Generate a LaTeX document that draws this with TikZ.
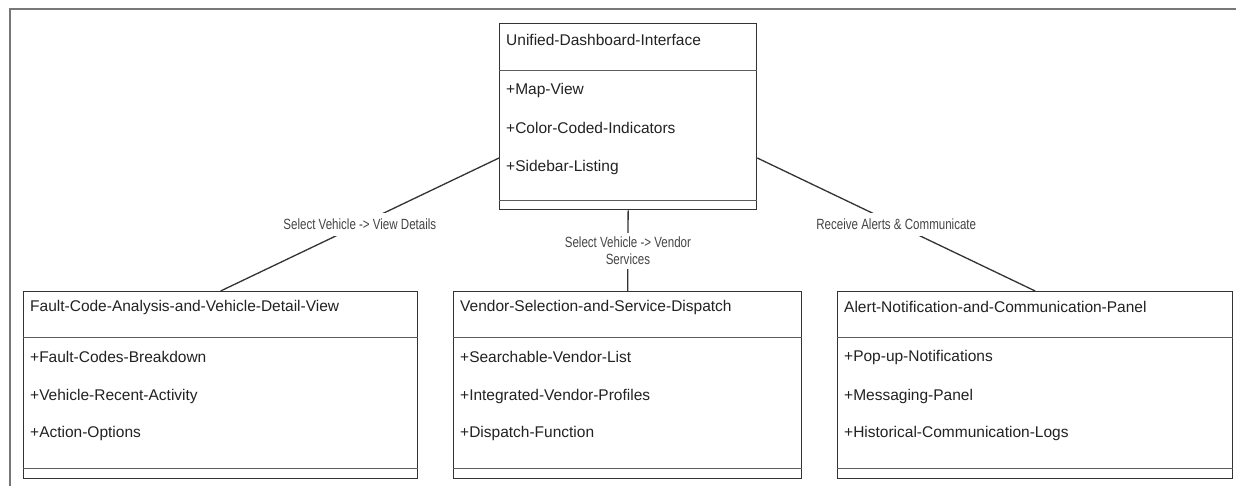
\documentclass[tikz,border=0pt]{standalone}
\usepackage{fontspec}
\setmainfont{Liberation Sans}
\newfontfamily\lblfont{Liberation Sans}[FakeStretch=0.78]
\definecolor{linec}{HTML}{333333}
\definecolor{framec}{HTML}{777777}
\definecolor{txtc}{HTML}{222222}
\definecolor{lblc}{HTML}{444444}
\begin{document}
\begin{tikzpicture}[x=1pt,y=-1pt,
  box/.style={draw=linec, line width=1.3pt, fill=white, inner sep=0pt, anchor=north west},
  divider/.style={draw=linec!80, line width=0.9pt},
  txt/.style={anchor=west, font=\fontsize{15.5}{18}\selectfont, inner sep=0pt, text=txtc},
  lbl/.style={font=\lblfont\fontsize{14.8}{17}\selectfont, fill=white, inner xsep=3pt, inner ysep=6pt, align=center, text=lblc},
  conn/.style={draw=linec, line width=1.3pt}]
\useasboundingbox (0,0) rectangle (1236,486);
\fill[white] (0,0) rectangle (1236,486);
\draw[framec, line width=1.1pt] (10,486) -- (10,9) -- (1236,9);

% top class
\node[box, minimum width=257pt, minimum height=186pt] (top) at (499,23) {};
\draw[divider] ([yshift=-47pt]top.north west) -- ([yshift=-47pt]top.north east);
\draw[divider] ([yshift=10pt]top.south west) -- ([yshift=10pt]top.south east);
\node[txt] (t0) at (506,40) {Unified-Dashboard-Interface};
\node[txt] (t1) at (506,90) {+Map-View};
\node[txt] (t2) at (506,128) {+Color-Coded-Indicators};
\node[txt] (t3) at (506,167) {+Sidebar-Listing};

% bottom classes
\node[box, minimum width=394pt, minimum height=187pt] (fault) at (23,291) {};
\node[box, minimum width=348pt, minimum height=187pt] (vendor) at (453,291) {};
\node[box, minimum width=395pt, minimum height=187pt] (alert) at (837,291) {};
\foreach \b in {fault,vendor,alert}{
  \draw[divider] ([yshift=-46pt]\b.north west) -- ([yshift=-46pt]\b.north east);
  \draw[divider] ([yshift=11pt]\b.south west) -- ([yshift=11pt]\b.south east);
}
\node[txt] (f0) at (30,307) {Fault-Code-Analysis-and-Vehicle-Detail-View};
\node[txt] (f1) at (30,357) {+Fault-Codes-Breakdown};
\node[txt] (f2) at (30,396) {+Vehicle-Recent-Activity};
\node[txt] (f3) at (30,433) {+Action-Options};

\node[txt] (v0) at (460,307) {Vendor-Selection-and-Service-Dispatch};
\node[txt] (v1) at (460,357) {+Searchable-Vendor-List};
\node[txt] (v2) at (460,396) {+Integrated-Vendor-Profiles};
\node[txt] (v3) at (460,433) {+Dispatch-Function};

\node[txt] (a0) at (844,307) {Alert-Notification-and-Communication-Panel};
\node[txt] (a1) at (844,357) {+Pop-up-Notifications};
\node[txt] (a2) at (844,396) {+Messaging-Panel};
\node[txt] (a3) at (844,433) {+Historical-Communication-Logs};

% connectors
\draw[conn] ([yshift=-135pt]top.north west) -- node[lbl] (l1) {Select Vehicle -> View Details} (fault.north);
\draw[conn] (top.south) -- node[lbl, inner ysep=4pt] (l2) {Select Vehicle -> Vendor\\Services} (vendor.north);
\draw[conn] ([yshift=-135pt]top.north east) -- node[lbl] (l3) {Receive Alerts \& Communicate} (alert.north);
\end{tikzpicture}
\end{document}
